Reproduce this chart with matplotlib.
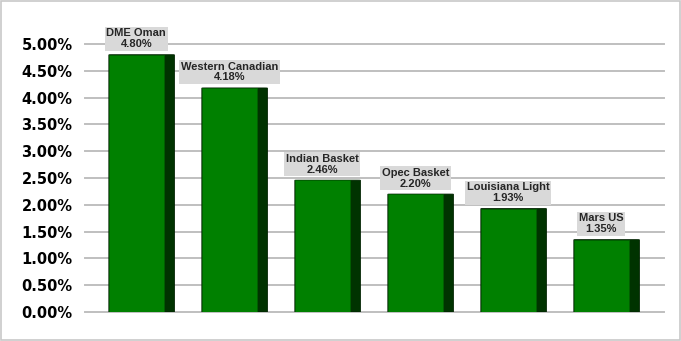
import matplotlib.pyplot as plt
from matplotlib.patches import FancyBboxPatch, Rectangle

# datos del grafico
nombres = ['DME Oman', 'Western Canadian', 'Indian Basket', 'Opec Basket', 'Louisiana Light', 'Mars US']
valores = [4.80, 4.18, 2.46, 2.20, 1.93, 1.35]
ticks_y = [0.0, 0.5, 1.0, 1.5, 2.0, 2.5, 3.0, 3.5, 4.0, 4.5, 5.0]

fig = plt.figure(figsize=(6.81, 3.41), dpi=100)
ax = fig.add_axes([85 / 681, 29 / 341, 579 / 681, 268 / 341])

# borde exterior de la figura
fig.patches.append(Rectangle((0.001, 0.002), 0.997, 0.995, transform=fig.transFigure,
                             fill=False, edgecolor='#c8c8c8', linewidth=1.2))

frente = 0.59
lado = 0.115
for i, v in enumerate(valores):
    x0 = i - (frente + lado) / 2
    # cara lateral oscura
    ax.add_patch(FancyBboxPatch((x0, 0), frente + lado, v, boxstyle='round,pad=0,rounding_size=0.04',
                                mutation_aspect=0.05, facecolor='#003300', edgecolor='#002200', linewidth=0.6))
    # cara frontal
    ax.add_patch(Rectangle((x0, 0), frente, v, facecolor='#008000', edgecolor='#006000', linewidth=0.6))
    ax.annotate(f'{nombres[i]}\n{v:.2f}%', (x0 + frente / 2, v), xytext=(0, 4), textcoords='offset points',
                ha='center', va='bottom', fontsize=8, fontweight='bold', family='Liberation Sans',
                color='#262626', linespacing=1.1, annotation_clip=False,
                bbox=dict(boxstyle='square,pad=0.15', facecolor='#d9d9d9', edgecolor='none'))

ax.set_xlim(-0.609, 5.617)
ax.set_ylim(0, 5.0)
ax.set_yticks(ticks_y)
ax.set_yticklabels([f'{t:.2f}%' for t in ticks_y], fontsize=10.5, fontweight='bold', family='DejaVu Sans')
ax.set_xticks([])
ax.tick_params(axis='y', length=0, pad=9)
ax.grid(axis='y', color='#bfbfbf', linewidth=1.4, clip_on=False)
ax.set_axisbelow(True)
for s in ax.spines.values():
    s.set_visible(False)

plt.savefig('out.png', dpi=100)
